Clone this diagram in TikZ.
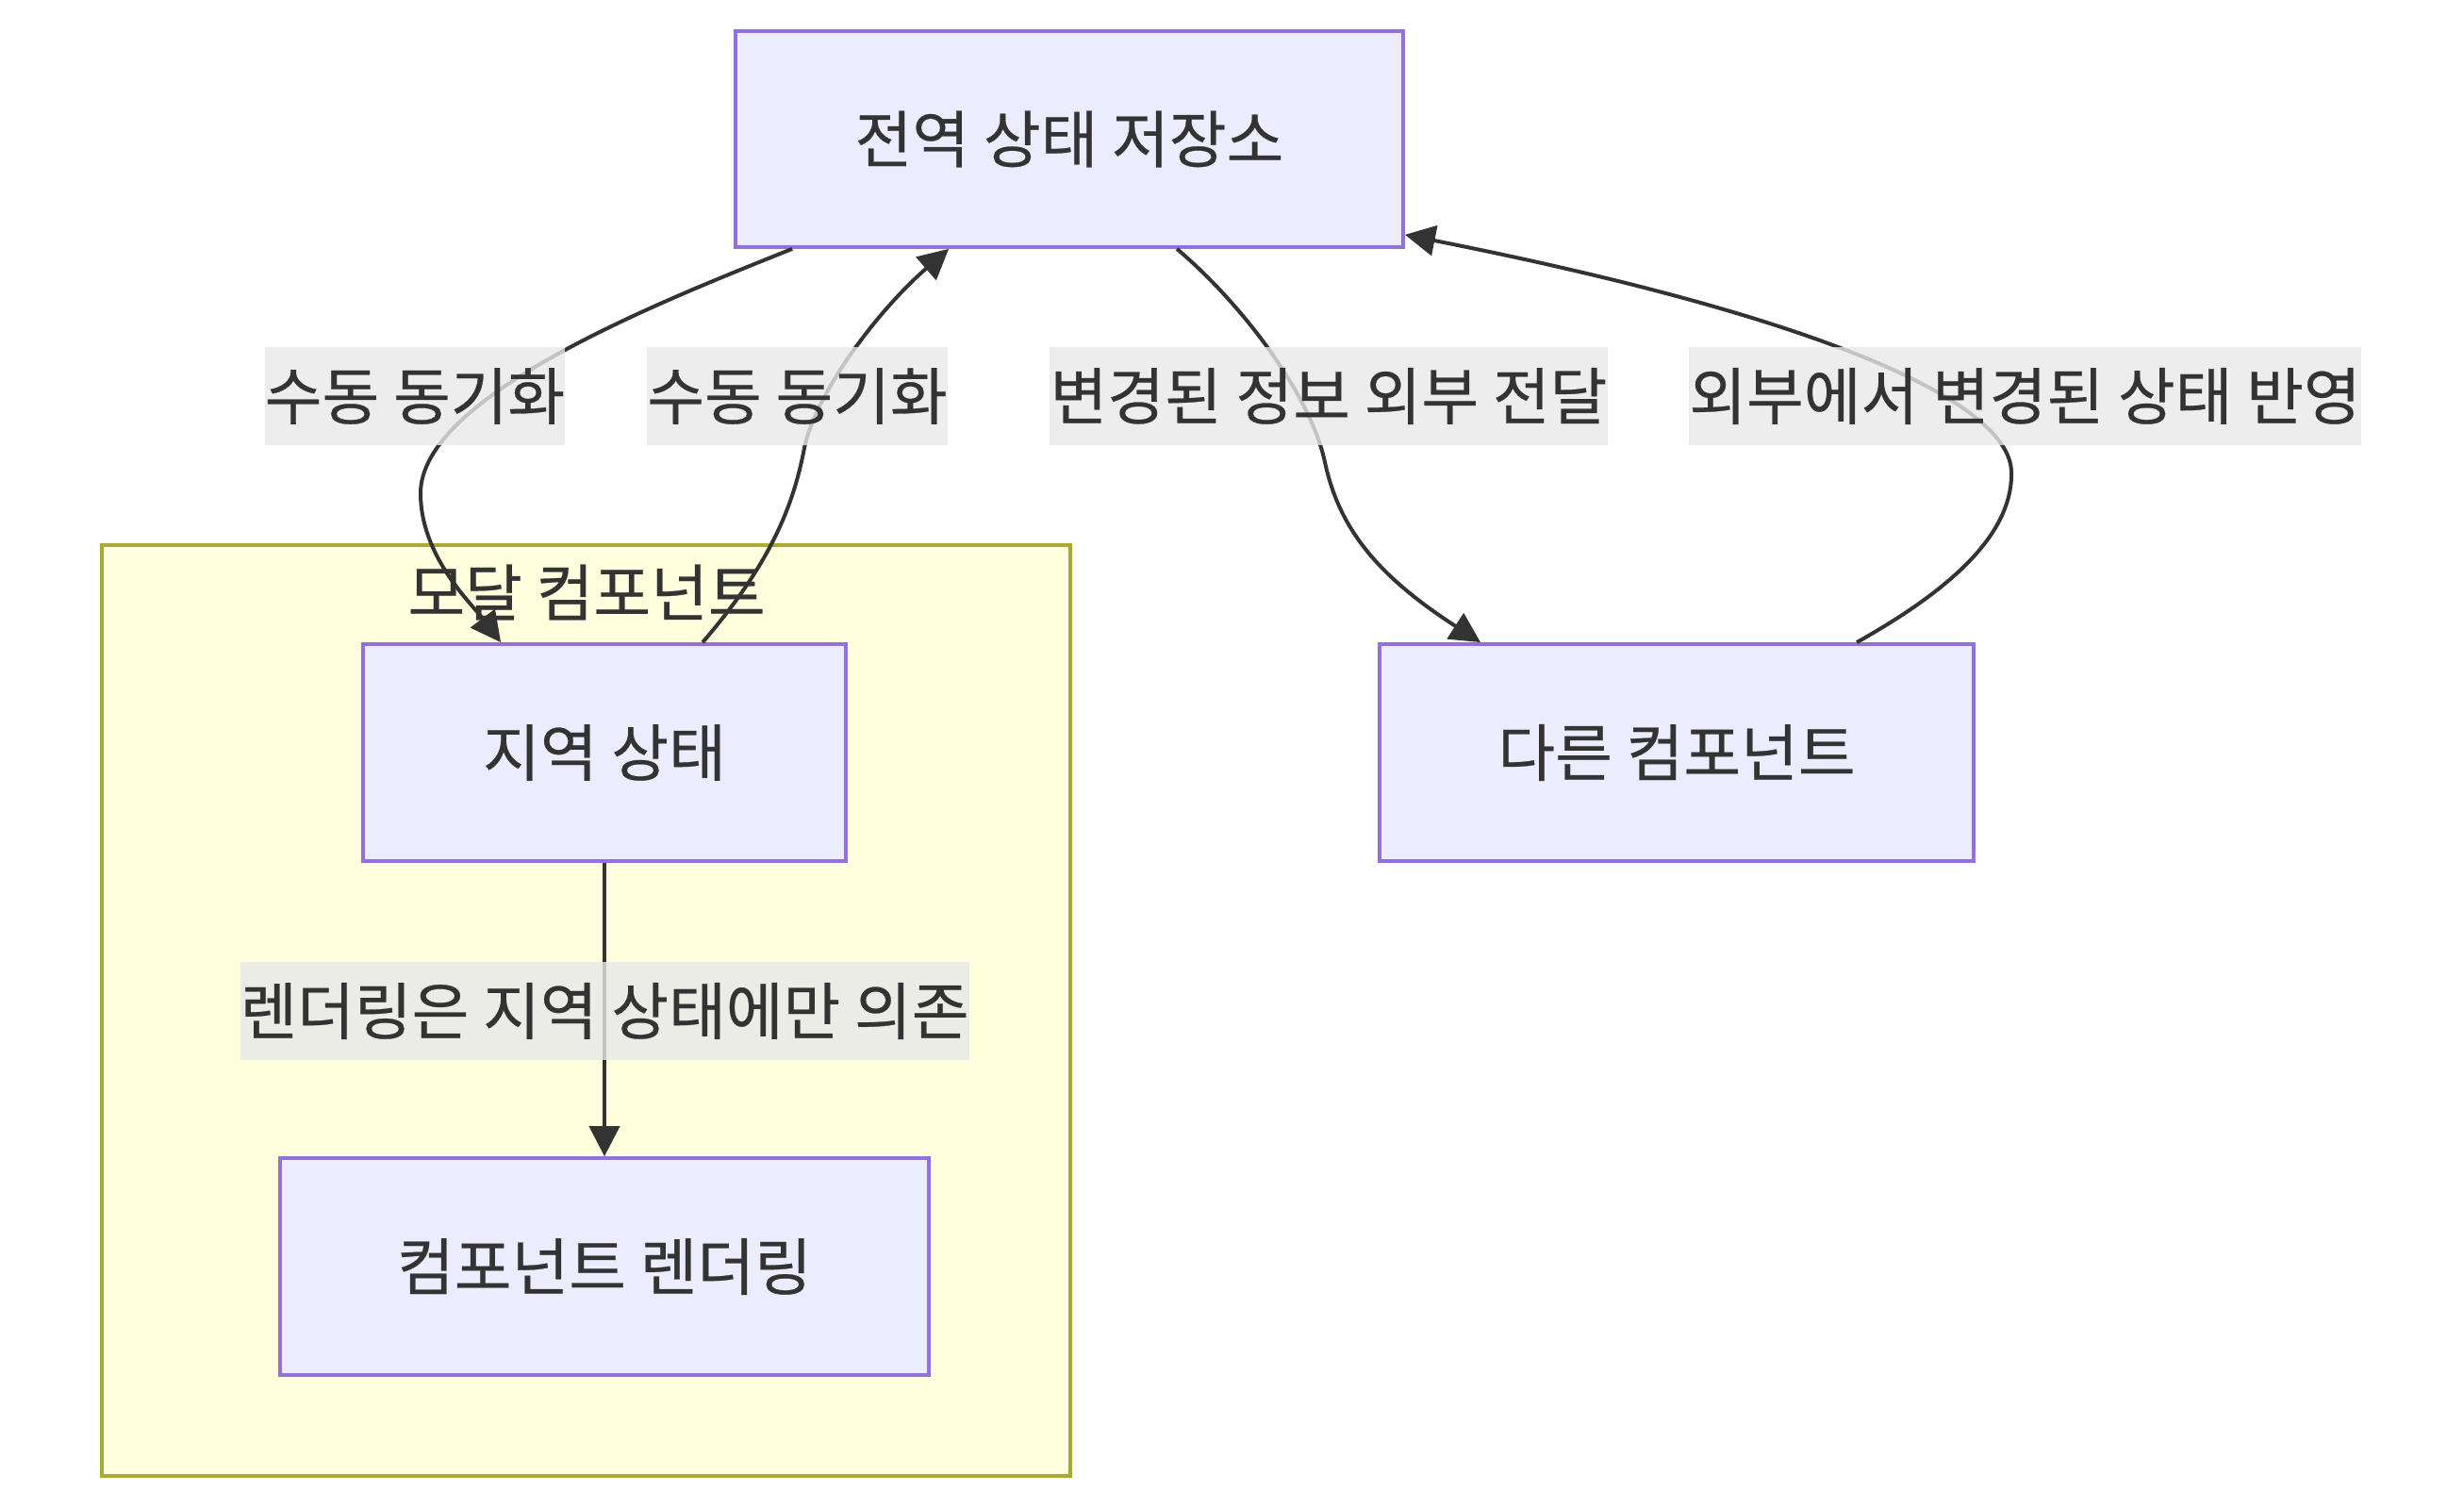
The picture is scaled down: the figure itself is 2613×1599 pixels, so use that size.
\documentclass[tikz,border=0pt]{standalone}
\usepackage{fontspec}
\setmainfont[FakeBold=0.4]{Noto Sans CJK KR}
\usetikzlibrary{arrows.meta,calc}
\definecolor{nodefill}{HTML}{ECECFF}
\definecolor{nodeline}{HTML}{9370DB}
\definecolor{groupfill}{HTML}{FFFFDE}
\definecolor{groupline}{HTML}{AAAA33}
\definecolor{ink}{HTML}{333333}
\definecolor{labelbg}{HTML}{E8E8E8}

\begin{document}
\begin{tikzpicture}[x=0.5pt,y=-0.5pt,
  font=\fontsize{33}{40}\selectfont, text=ink,
  box/.style={draw=nodeline, fill=nodefill, line width=1.9pt, minimum height=115pt, inner sep=0pt},
  group/.style={draw=groupline, fill=groupfill, line width=1.9pt, inner sep=0pt},
  flow/.style={draw=ink, line width=2pt, -{Triangle[length=16pt,width=16pt]}},
  tag/.style={fill=labelbg, fill opacity=0.8, text opacity=1, minimum height=52pt, inner xsep=0pt, inner ysep=0pt}
]
\useasboundingbox (0,0) rectangle (2613,1599);

% subgraph frame and title
\node[group, minimum width=513.5pt, minimum height=493.5pt] (sg) at (621.5,1071.5) {};
\node (sgt) at (622,628) {모달 컴포넌트};

% state nodes
\node[box, minimum width=354pt, minimum height=114.5pt] (gs) at (1134,147.5) {전역 상태 저장소};
\node[box, minimum width=256pt] (ls) at (641,798) {지역 상태};
\node[box, minimum width=315pt] (oc) at (1778,798) {다른 컴포넌트};
\node[box, minimum width=344pt] (cr) at (641,1343) {컴포넌트 렌더링};

% connectors
\draw[flow] ($(gs.south west)+(62,0)$) .. controls (700,320) and (446,420) .. (446,523)
  .. controls (446,590) and (500,640) .. ($(ls.north west)+(148,0)$);
\draw[flow] ($(ls.north west)+(362,0)$) .. controls (815,600) and (840,540) .. (852,480)
  .. controls (862,420) and (930,330) .. ($(gs.south west)+(228,0)$);
\draw[flow] ($(gs.south west)+(470,0)$) .. controls (1320,325) and (1390,420) .. (1405,490)
  .. controls (1420,560) and (1460,610) .. ($(oc.north west)+(109,0)$);
\draw[flow] ($(oc.north west)+(508,0)$) .. controls (2060,630) and (2135,570) .. (2133,500)
  .. controls (2131,430) and (1950,340) .. ($(gs.south east)+(0,-15)$);
\draw[flow] (ls.south) -- (cr.north);

% connector labels
\node[tag, minimum width=157pt] (l1) at (440,420) {수동 동기화};
\node[tag, minimum width=157.5pt] (l2) at (845.5,420) {수동 동기화};
\node[tag, minimum width=296pt] (l3) at (1409,420) {변경된 정보 외부 전달};
\node[tag, minimum width=355.5pt] (l4) at (2147.5,420) {외부에서 변경된 상태 반영};
\node[tag, minimum width=384pt] (l5) at (641,1072) {렌더링은 지역 상태에만 의존};
\end{tikzpicture}
\end{document}
